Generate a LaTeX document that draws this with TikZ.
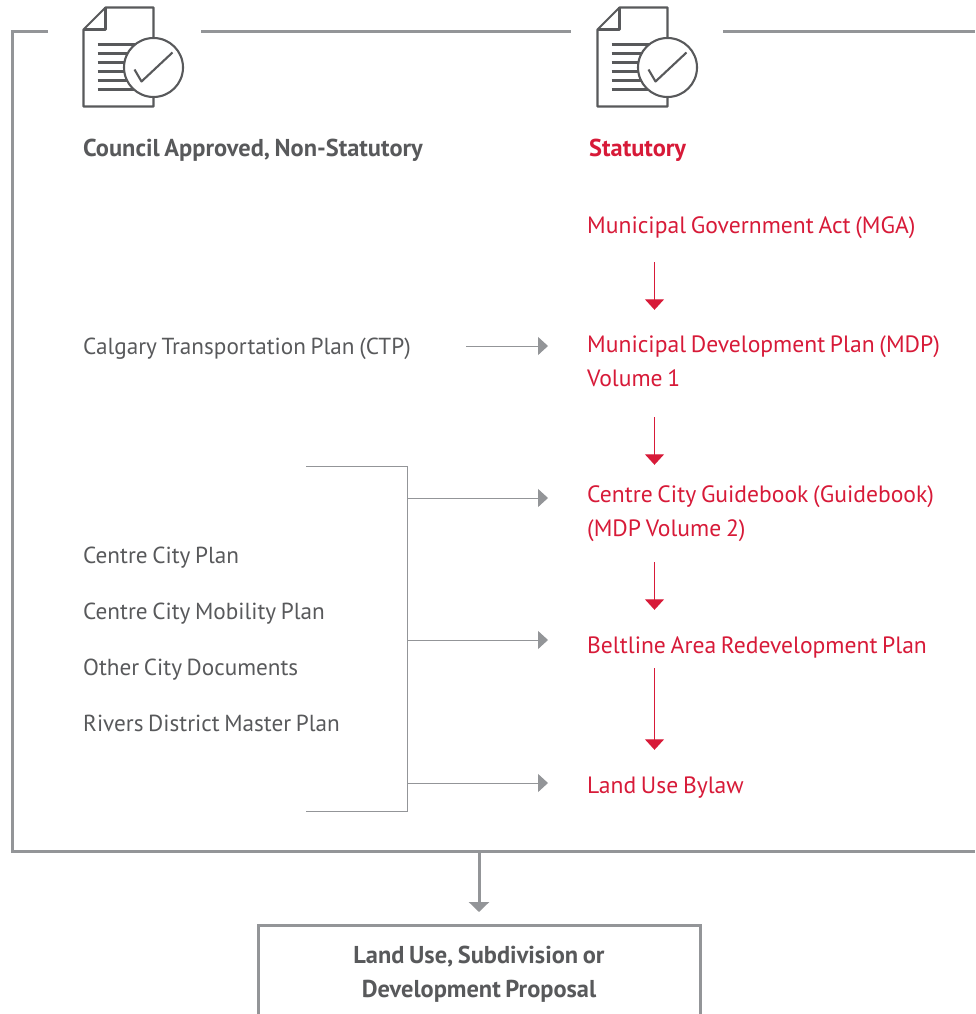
\documentclass[tikz,border=0pt]{standalone}
\usepackage{fontspec}
\setmainfont[WordSpace=0.75]{PT Sans}
\usetikzlibrary{arrows.meta,calc}
\definecolor{txt}{HTML}{58595B}
\definecolor{redc}{HTML}{D71A38}
\definecolor{gry}{HTML}{939598}
\tikzset{
 x=1pt,y=-1pt,
 label/.style={inner sep=0pt,anchor=west,align=left,text=txt,font=\fontsize{23.6}{34.5}\selectfont},
 listlabel/.style={label,font=\fontsize{23.2}{34.5}\selectfont,text height=17pt,text depth=6pt},
 redlabel/.style={label,text=redc},
 boldlabel/.style={label,font=\fontsize{24.4}{34.5}\selectfont\bfseries},
 redflow/.style={draw=redc,line width=1.1pt,-{Triangle[length=10.5pt,width=19pt]}},
 feed/.style={draw=gry,line width=1pt,-{Triangle[length=10pt,width=18pt]}},
 bracketline/.style={draw=gry,line width=1pt},
 frameline/.style={draw=gry,line width=3pt},
 iconline/.style={draw=txt,line width=2.1pt,line join=round},
 pics/docicon/.style={code={
  \draw[iconline] (22,0)--(70,0)--(70,99)--(0,99)--(0,22)--cycle;
  \draw[iconline] (0,22)--(22,22)--(22,0);
  \foreach \yy in {37,46,55,64,73,82}{\draw[iconline] (14,\yy)--(60,\yy);}
  \draw[iconline,fill=white] (70,60) circle (29.5);
  \draw[iconline] (51,62)--(58,74)--(89,45);
 }}
}
\begin{document}
\begin{tikzpicture}
\useasboundingbox (0,0) rectangle (975,1014);
\clip (0,0) rectangle (975,1014);
% frame
\coordinate (fa) at (48,31.5);\coordinate (fb) at (12,31.5);\coordinate (fc) at (12,851);\coordinate (fd) at (975,851);
\coordinate (ga) at (201,31.5);\coordinate (gb) at (571,31.5);
\coordinate (ha) at (723,31.5);\coordinate (hb) at (975,31.5);
\draw[frameline] (fa)--(fb)--(fc)--(fd);
\draw[frameline] (ga)--(gb);
\draw[frameline] (ha)--(hb);
% icons
\pic at (83.5,7.5) {docicon};
\pic at (597.5,7.5) {docicon};
% headings
\node[boldlabel] (hcouncil) at (83,150.5) {Council Approved, Non-Statutory};
\node[boldlabel,text=redc] (hstat) at (589,150.5) {Statutory};
% statutory chain
\node[redlabel,minimum height=69pt] (mga) at (587,227.5) {Municipal Government Act (MGA)};
\node[redlabel,minimum height=102pt] (mdp) at (587,361) {Municipal Development Plan (MDP)\\Volume 1};
\node[redlabel,minimum height=97pt] (ccg) at (587,513.5) {Centre City Guidebook (Guidebook)\\(MDP Volume 2)};
\node[redlabel,minimum height=41pt] (arp) at (587,647.5) {Beltline Area Redevelopment Plan};
\node[redlabel,minimum height=75pt] (lub) at (587,787.5) {Land Use Bylaw};
\coordinate (rx) at (654.5,0);
\draw[redflow] (mga.south -| rx)--(mdp.north -| rx);
\draw[redflow,shorten <=5pt] (mdp.south -| rx)--(ccg.north -| rx);
\draw[redflow,shorten >=17pt] (ccg.south -| rx)--(arp.north -| rx);
\draw[redflow] (arp.south -| rx)--(lub.north -| rx);
% non-statutory
\node[listlabel,align=flush left,text width=383pt] (ctp) at (83,348.5) {Calgary Transportation Plan (CTP)};
\coordinate (ctpy) at (0,346);
\draw[feed,shorten >=39pt] (ctp.east |- ctpy)--(ctpy -| mdp.west);
\node[listlabel] (ccp) at (83,557.5) {Centre City Plan};
\node[listlabel] (ccm) at (83,613.5) {Centre City Mobility Plan};
\node[listlabel] (ocd) at (83,669.5) {Other City Documents};
\node[listlabel] (rdm) at (83,725.5) {Rivers District Master Plan};
% bracket
\coordinate (ba) at (306,466);\coordinate (bb) at (407.5,466);
\coordinate (bc) at (407.5,811.5);\coordinate (bd) at (306,811.5);
\coordinate (j1) at (407.5,498);\coordinate (j2) at (407.5,640);\coordinate (j3) at (407.5,783);
\draw[bracketline] (ba)--(bb)--(bc)--(bd);
\draw[feed,shorten >=39pt] (j1)--(j1 -| ccg.west);
\draw[feed,shorten >=39pt] (j2)--(j2 -| arp.west);
\draw[feed,shorten >=39pt] (j3)--(j3 -| lub.west);
% proposal
\node[draw=gry,line width=3pt,inner sep=0pt,minimum width=442pt,minimum height=140pt,anchor=north] (prop) at (479,924) {};
\node[inner sep=0pt,text=txt,font=\fontsize{24.4}{34}\selectfont\bfseries,align=center] (proptext) at (479,974) {Land Use, Subdivision or\\Development Proposal};
\coordinate (fj) at (479,851);
\draw[draw=gry,line width=3pt,-{Triangle[length=10pt,width=20pt]},shorten >=12pt] (fj)--(fj |- prop.north);
\end{tikzpicture}
\end{document}
